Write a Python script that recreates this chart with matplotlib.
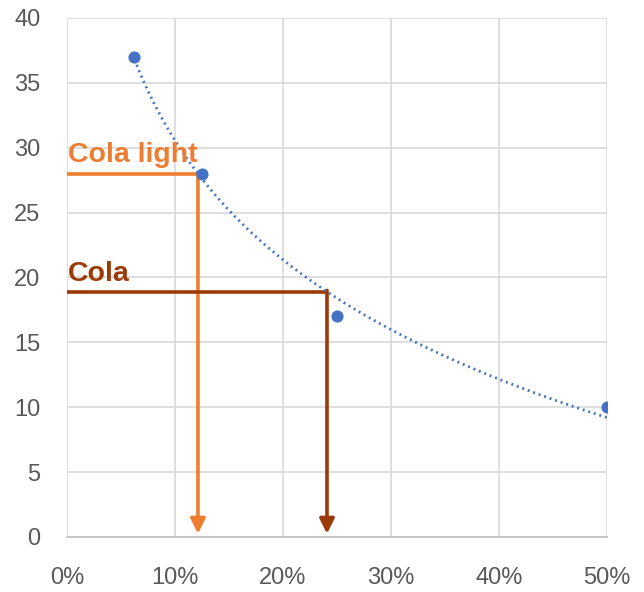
import numpy as np
import matplotlib.pyplot as plt
from matplotlib.ticker import FuncFormatter

# share of sugar vs. price level
share = [0.0625, 0.125, 0.25, 0.5]
price = [37, 28, 17, 10]

products = ['Cola light', 'Cola']
product_levels = [28, 18.9]
product_colors = ['#ED7D31', '#9C3A07']

x_ticks = [0, 0.1, 0.2, 0.3, 0.4, 0.5]
y_ticks = [0, 5, 10, 15, 20, 25, 30, 35, 40]


def log_fit(x, y):
    b, a = np.polyfit(np.log(x), y, 1)
    return a, b


def main():
    plt.rcParams['font.family'] = ['Liberation Sans', 'DejaVu Sans']
    fig = plt.figure(figsize=(6.44, 5.92), dpi=100)
    ax = fig.add_axes([0.104, 0.093, 0.8385, 0.8766])

    a, b = log_fit(share, price)
    xs = np.linspace(min(share), max(share), 300)
    ax.plot(xs, a + b * np.log(xs), color='#4472C4', lw=2.0,
            linestyle=(0, (0.7, 1.4)), zorder=3)
    ax.scatter(share, price, s=60, color='#4472C4', zorder=4)

    for name, level, color in zip(products, product_levels, product_colors):
        # where the trend crosses this price level
        xc = np.exp((level - a) / b)
        ax.plot([0, xc], [level, level], color=color, lw=2.6, zorder=2,
                solid_capstyle='butt')
        ax.annotate('', xy=(xc, 0.25), xytext=(xc, level + 0.1),
                    arrowprops=dict(arrowstyle='-|>', mutation_scale=22,
                                    lw=2.6, color=color, shrinkA=0, shrinkB=0),
                    zorder=2)
        ax.text(0.001, level + 0.4, name, color=color, fontsize=20.5,
                fontweight='bold', ha='left', va='bottom')

    ax.set_xlim(0, 0.5)
    ax.set_ylim(0, 40)
    ax.set_xticks(x_ticks)
    ax.set_yticks(y_ticks)
    ax.xaxis.set_major_formatter(FuncFormatter(lambda v, p: f'{v * 100:.0f}%'))
    ax.grid(True, color='#D9D9D9', lw=1.2)
    ax.set_axisbelow(True)
    for side in ['top', 'right', 'left']:
        ax.spines[side].set_visible(False)
    ax.spines['bottom'].set_color('#BFBFBF')
    ax.spines['bottom'].set_linewidth(1.2)
    ax.tick_params(length=0, labelsize=17, labelcolor='#595959')
    ax.tick_params(axis='y', pad=19)
    ax.tick_params(axis='x', pad=22)

    fig.savefig('out.png', dpi=100)


if __name__ == "__main__":
    main()
